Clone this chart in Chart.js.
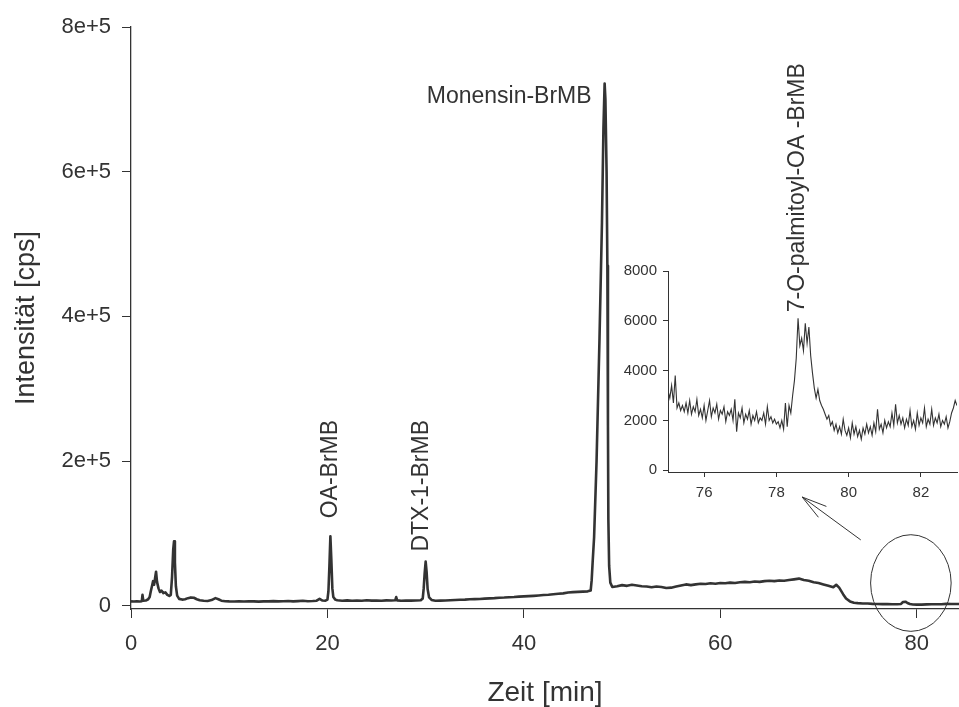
<!DOCTYPE html>
<html>
<head>
<meta charset="utf-8">
<title>Chromatogramm</title>
<script src="https://cdn.jsdelivr.net/npm/chart.js@4/dist/chart.umd.min.js"></script>
<style>
  html, body { margin: 0; padding: 0; background: #ffffff; }
  #wrap { position: relative; width: 959px; height: 707px; overflow: hidden; }
  #main { position: absolute; left: 0; top: 0; }
  #inset { position: absolute; left: 590px; top: 40px; }
</style>
</head>
<body>
<div id="wrap">
  <canvas id="main" width="959" height="707" style="width:959px;height:707px"></canvas>
  <canvas id="inset" width="369" height="480" style="width:369px;height:480px"></canvas>
</div>
<script>
// ---- full run: retention time [min] and intensity [cps] ----
const mainTime = [
  0.0, 0.3, 0.6, 0.9, 1.1, 1.17, 1.25, 1.5, 1.75, 1.9,
  2.0, 2.15, 2.25, 2.35, 2.45, 2.55, 2.65, 2.8, 2.95, 3.1,
  3.3, 3.5, 3.7, 3.9, 4.05, 4.18, 4.3, 4.38, 4.47, 4.57,
  4.7, 4.9, 5.2, 5.5, 5.8, 6.1, 6.4, 6.7, 7.0, 7.4,
  7.8, 8.2, 8.6, 8.9, 9.2, 9.6, 10.0, 10.5, 11.0, 11.5,
  12.0, 12.5, 13.0, 13.5, 14.0, 14.5, 15.0, 15.5, 16.0, 16.5,
  17.0, 17.5, 18.0, 18.5, 18.9, 19.2, 19.5, 19.8, 20.0, 20.1,
  20.2, 20.3, 20.4, 20.5, 20.6, 20.8, 21.0, 21.5, 22.0, 22.5,
  23.0, 23.5, 24.0, 24.5, 25.0, 25.5, 26.0, 26.5, 26.9, 27.0,
  27.1, 27.5, 28.0, 28.5, 29.0, 29.5, 29.7, 29.8, 29.9, 30.0,
  30.1, 30.2, 30.35, 30.6, 31.0, 31.5, 32.0, 32.5, 33.0, 33.5,
  34.0, 34.5, 35.0, 35.5, 36.0, 36.5, 37.0, 37.5, 38.0, 38.5,
  39.0, 39.5, 40.0, 40.5, 41.0, 41.5, 42.0, 42.5, 43.0, 43.5,
  44.0, 44.5, 45.0, 45.5, 46.0, 46.5, 46.8, 46.9, 47.0, 47.15,
  47.4, 47.7, 47.95, 48.1, 48.22, 48.3, 48.42, 48.5, 48.56, 48.6,
  48.68, 48.8, 49.0, 49.5, 50.0, 50.5, 51.0, 51.5, 52.0, 52.5,
  53.0, 53.5, 54.0, 54.5, 55.0, 55.5, 56.0, 56.5, 57.0, 57.5,
  58.0, 58.5, 59.0, 59.5, 60.0, 60.5, 61.0, 61.5, 62.0, 62.5,
  63.0, 63.5, 64.0, 64.5, 65.0, 65.5, 66.0, 66.5, 67.0, 67.5,
  68.0, 68.5, 69.0, 69.5, 70.0, 70.5, 71.0, 71.5, 71.8, 72.1,
  72.5, 72.8, 73.2, 73.6, 74.0, 74.5, 75.0, 75.5, 76.0, 76.5,
  77.0, 77.5, 78.0, 78.4, 78.6, 78.85, 79.05, 79.3, 79.6, 80.0,
  80.5, 81.0, 81.5, 82.0, 82.5, 83.0, 83.5, 84.0, 84.3
];
const mainCps = [
  6000, 5800, 6200, 5900, 6300, 15000, 7000, 7200, 9000, 12000,
  19000, 28000, 34000, 29000, 38000, 47000, 33000, 24000, 19000, 21000,
  17500, 18500, 15000, 13500, 15000, 40000, 78000, 89000, 60000, 27000,
  14000, 9500, 8500, 9000, 10500, 11500, 11000, 9000, 7500, 6800,
  6600, 7800, 10500, 9000, 7000, 6300, 6000, 5800, 6200, 5900,
  6300, 6000, 5700, 6100, 6000, 6400, 6000, 6200, 6500, 6100,
  6400, 6800, 6300, 6600, 7000, 9500, 7200, 7000, 8500, 20000,
  55000, 96000, 62000, 24000, 12000, 8500, 7500, 7000, 7400, 6800,
  7200, 7000, 7500, 7100, 7300, 6900, 7400, 7200, 7500, 12000,
  7400, 7000, 7300, 7100, 7200, 7600, 10000, 24000, 45000, 61000,
  46000, 23000, 11500, 8000, 7000, 7100, 7300, 7600, 7900, 8200,
  8400, 8900, 9100, 9400, 9800, 10200, 10500, 11000, 11300, 11800,
  12100, 12600, 12900, 13300, 13700, 14200, 14800, 15300, 16000, 16600,
  17100, 18200, 18800, 19200, 19500, 19900, 21000, 35000, 60000, 95000,
  200000, 370000, 530000, 660000, 722000, 700000, 600000, 470000, 250000, 120000,
  55000, 32000, 26000, 27000, 28500, 27500, 29000, 28000, 27000, 26500,
  25500, 26500, 26000, 24500, 25000, 26500, 28000, 29500, 28500, 29500,
  30500, 30000, 31000, 30500, 31500, 31000, 32000, 31500, 32500, 33000,
  32500, 33500, 33000, 34000, 34500, 34000, 35000, 34500, 35500, 36500,
  37500, 35500, 34500, 32500, 31500, 29500, 27500, 25500, 29000, 25000,
  16000, 10000, 6000, 4200, 3600, 3200, 3000, 2600, 2400, 2300,
  2200, 2100, 2000, 2500, 5200, 5600, 3800, 2400, 1800, 1600,
  1600, 1900, 2000, 2000, 2000, 2600, 2400, 2500, 2400
];
const mainXTicks = [0, 20, 40, 60, 80];
const mainYTicks = [0, 200000, 400000, 600000, 800000];

// ---- enlarged window 75-83 min ----
const insetTime = [
  75.00, 75.05, 75.10, 75.15, 75.20, 75.25, 75.30, 75.35, 75.40, 75.45,
  75.50, 75.55, 75.60, 75.65, 75.70, 75.75, 75.80, 75.85, 75.90, 75.95,
  76.00, 76.05, 76.10, 76.15, 76.20, 76.25, 76.30, 76.35, 76.40, 76.45,
  76.50, 76.55, 76.60, 76.65, 76.70, 76.75, 76.80, 76.85, 76.90, 76.95,
  77.00, 77.05, 77.10, 77.15, 77.20, 77.25, 77.30, 77.35, 77.40, 77.45,
  77.50, 77.55, 77.60, 77.65, 77.70, 77.75, 77.80, 77.85, 77.90, 77.95,
  78.00, 78.05, 78.10, 78.15, 78.20, 78.25, 78.30, 78.35, 78.40, 78.45,
  78.50, 78.55, 78.60, 78.65, 78.70, 78.75, 78.80, 78.85, 78.90, 78.95,
  79.00, 79.05, 79.10, 79.15, 79.20, 79.25, 79.30, 79.35, 79.40, 79.45,
  79.50, 79.55, 79.60, 79.65, 79.70, 79.75, 79.80, 79.85, 79.90, 79.95,
  80.00, 80.05, 80.10, 80.15, 80.20, 80.25, 80.30, 80.35, 80.40, 80.45,
  80.50, 80.55, 80.60, 80.65, 80.70, 80.75, 80.80, 80.85, 80.90, 80.95,
  81.00, 81.05, 81.10, 81.15, 81.20, 81.25, 81.30, 81.35, 81.40, 81.45,
  81.50, 81.55, 81.60, 81.65, 81.70, 81.75, 81.80, 81.85, 81.90, 81.95,
  82.00, 82.05, 82.10, 82.15, 82.20, 82.25, 82.30, 82.35, 82.40, 82.45,
  82.50, 82.55, 82.60, 82.65, 82.70, 82.75, 82.80, 82.85, 82.90, 82.95,
  83.00
];
const insetCps = [
  3200, 2900, 3400, 2700, 3800, 2500, 2700, 2400, 2600, 2350,
  2700, 2300, 2800, 2250, 2550, 2350, 2850, 2200, 2450, 2100,
  2600, 2000, 2400, 2800, 2150, 2500, 2300, 2650, 2050, 2400,
  2250, 2550, 1950, 2350, 2200, 2450, 2000, 2850, 1550, 2300,
  2100, 2500, 1900, 2250, 2050, 2400, 1850, 2200, 2000, 2350,
  1900, 2100, 2000, 2300, 1850, 2550, 2000, 2150, 1900, 2050,
  1850, 1950, 1700, 2000, 1650, 2700, 1750, 2600, 2300, 3000,
  3600, 4500, 6100, 5000, 5300, 4800, 5900, 5100, 5750, 4600,
  3900, 3300, 2900, 3250, 2800, 2600, 2450, 2250, 2050, 2200,
  1800, 1950, 1600, 1850, 1500, 1750, 1450, 2050, 1600, 1400,
  1700, 1300, 1900, 1450, 1750, 1350, 1600, 1250, 1700, 1450,
  1850, 1500, 1750, 1400, 1900, 1550, 2450, 1650, 1850, 1500,
  2000, 1700, 1950, 1750, 2300, 1800, 2650, 1900, 2200, 1850,
  2100, 1700, 2050, 1800, 2400, 1750, 2000, 1650, 2300, 1800,
  2100, 1900, 2500, 1750, 2050, 1850, 2450, 1800, 2100, 1900,
  2250, 1750, 2000, 1850, 2150, 1700, 1950, 2300, 2500, 2800,
  2600
];
const insetXTicks = [76, 78, 80, 82];
const insetYTicks = [0, 2000, 4000, 6000, 8000];

// ---- peak annotations ----
const peakNames = ['Monensin-BrMB', 'OA-BrMB', 'DTX-1-BrMB'];
const peakTimes = [48.22, 20.3, 30.0];
const peakCps = [722000, 96000, 61000];
const insetPeakName = '7-O-palmitoyl-OA -BrMB';
const insetPeakTime = 78.6;
const insetPeakCps = 6100;

const INK = '#333333';
const FONT = '"Liberation Sans", Arial, Helvetica, sans-serif';

function toPoints(xs, ys) {
  return xs.map((t, i) => ({ x: t, y: ys[i] }));
}

// peak names, the circled region and the arrow pointing to the zoom window
const mainMarks = {
  id: 'mainMarks',
  afterDatasetsDraw(chart) {
    const { ctx } = chart;
    const x = chart.scales.x, y = chart.scales.y;
    ctx.save();
    ctx.fillStyle = INK;
    ctx.font = '23px ' + FONT;
    ctx.textBaseline = 'middle';

    // horizontal name left of the main peak
    ctx.textAlign = 'right';
    ctx.fillText(peakNames[0], x.getPixelForValue(peakTimes[0]) - 13, y.getPixelForValue(peakCps[0]) + 13);

    // vertical names above the two smaller peaks
    const gaps = [0, 18, 10];
    const shifts = [0, 0.5, -4];
    for (let i = 1; i < peakNames.length; i++) {
      ctx.save();
      ctx.translate(x.getPixelForValue(peakTimes[i]) + shifts[i], y.getPixelForValue(peakCps[i]) - gaps[i]);
      ctx.rotate(-Math.PI / 2);
      ctx.textAlign = 'left';
      ctx.fillText(peakNames[i], 0, 0);
      ctx.restore();
    }

    // ellipse around the late-eluting peak
    ctx.strokeStyle = INK;
    ctx.lineWidth = 1;
    const cx = x.getPixelForValue(79.4), cy = y.getPixelForValue(31400);
    const rx = x.getPixelForValue(79.4 + 4.1) - cx;
    const ry = cy - y.getPixelForValue(31400 + 66800);
    ctx.beginPath();
    ctx.ellipse(cx, cy, rx, ry, 0, 0, Math.PI * 2);
    ctx.stroke();

    // arrow from the ellipse towards the zoom window
    const tx = x.getPixelForValue(74.3), ty = y.getPixelForValue(91000);
    const hx = x.getPixelForValue(68.33), hy = y.getPixelForValue(150300);
    ctx.beginPath();
    ctx.moveTo(tx, ty);
    ctx.lineTo(hx, hy);
    const ang = Math.atan2(ty - hy, tx - hx);
    const len = 26, spread = 15 * Math.PI / 180;
    ctx.moveTo(hx + len * Math.cos(ang - spread), hy + len * Math.sin(ang - spread));
    ctx.lineTo(hx, hy);
    ctx.lineTo(hx + len * Math.cos(ang + spread), hy + len * Math.sin(ang + spread));
    ctx.stroke();
    ctx.restore();
  }
};

const insetMarks = {
  id: 'insetMarks',
  afterDatasetsDraw(chart) {
    const { ctx } = chart;
    const x = chart.scales.x, y = chart.scales.y;
    ctx.save();
    ctx.fillStyle = INK;
    ctx.font = '23px ' + FONT;
    ctx.textBaseline = 'middle';
    ctx.textAlign = 'left';
    ctx.translate(x.getPixelForValue(insetPeakTime), y.getPixelForValue(insetPeakCps) - 6);
    ctx.rotate(-Math.PI / 2);
    ctx.fillText(insetPeakName, 0, 0);
    ctx.restore();
  }
};

new Chart(document.getElementById('main'), {
  type: 'line',
  data: {
    datasets: [{
      data: toPoints(mainTime, mainCps),
      borderColor: INK,
      borderWidth: 2.6,
      pointRadius: 0,
      tension: 0,
      borderJoinStyle: 'round'
    }]
  },
  options: {
    responsive: false,
    animation: false,
    devicePixelRatio: 1,
    events: [],
    layout: { padding: { top: 27, right: 0, left: 0, bottom: 0 } },
    plugins: { legend: { display: false }, tooltip: { enabled: false } },
    scales: {
      x: {
        type: 'linear',
        min: 0,
        max: 84.3,
        afterBuildTicks: s => { s.ticks = mainXTicks.map(v => ({ value: v })); },
        afterFit: s => { s.height = 98; },
        ticks: { color: INK, font: { family: FONT, size: 22 }, padding: 13, maxRotation: 0, callback: v => String(v) },
        grid: { display: true, drawOnChartArea: false, drawTicks: true, tickLength: 9, color: INK, lineWidth: 1 },
        border: { display: true, color: INK, width: 1.3 },
        title: { display: true, text: 'Zeit [min]', color: INK, font: { family: FONT, size: 28, lineHeight: 1 }, padding: { top: 0, bottom: 0 } }
      },
      y: {
        type: 'linear',
        min: -4500,
        max: 800000,
        afterBuildTicks: s => { s.ticks = mainYTicks.map(v => ({ value: v })); },
        afterFit: s => { s.width = 131; },
        ticks: { color: INK, font: { family: FONT, size: 22 }, padding: 11, callback: v => v === 0 ? '0' : (v / 100000) + 'e+5' },
        grid: { display: true, drawOnChartArea: false, drawTicks: true, tickLength: 9, color: INK, lineWidth: 1 },
        border: { display: true, color: INK, width: 1.3 },
        title: { display: true, text: 'Intensität [cps]', color: INK, font: { family: FONT, size: 27, lineHeight: 1 }, padding: { top: 13, bottom: 0 } }
      }
    }
  },
  plugins: [mainMarks]
});

new Chart(document.getElementById('inset'), {
  type: 'line',
  data: {
    datasets: [{
      data: toPoints(insetTime, insetCps),
      borderColor: INK,
      borderWidth: 1.1,
      pointRadius: 0,
      tension: 0
    }]
  },
  options: {
    responsive: false,
    animation: false,
    devicePixelRatio: 1,
    events: [],
    layout: { padding: { top: 231, right: 2, left: 0, bottom: 0 } },
    plugins: { legend: { display: false }, tooltip: { enabled: false } },
    scales: {
      x: {
        type: 'linear',
        min: 75,
        max: 83,
        afterBuildTicks: s => { s.ticks = insetXTicks.map(v => ({ value: v })); },
        afterFit: s => { s.height = 48; },
        ticks: { color: INK, font: { family: FONT, size: 15 }, padding: 7, maxRotation: 0, callback: v => String(v) },
        grid: { display: true, drawOnChartArea: false, drawTicks: true, tickLength: 5, color: INK, lineWidth: 1 },
        border: { display: true, color: INK, width: 1 }
      },
      y: {
        type: 'linear',
        min: -70,
        max: 8000,
        afterBuildTicks: s => { s.ticks = insetYTicks.map(v => ({ value: v })); },
        afterFit: s => { s.width = 78; },
        ticks: { color: INK, font: { family: FONT, size: 15 }, padding: 6, callback: v => String(v) },
        grid: { display: true, drawOnChartArea: false, drawTicks: true, tickLength: 5, color: INK, lineWidth: 1 },
        border: { display: true, color: INK, width: 1 }
      }
    }
  },
  plugins: [insetMarks]
});
</script>
</body>
</html>
